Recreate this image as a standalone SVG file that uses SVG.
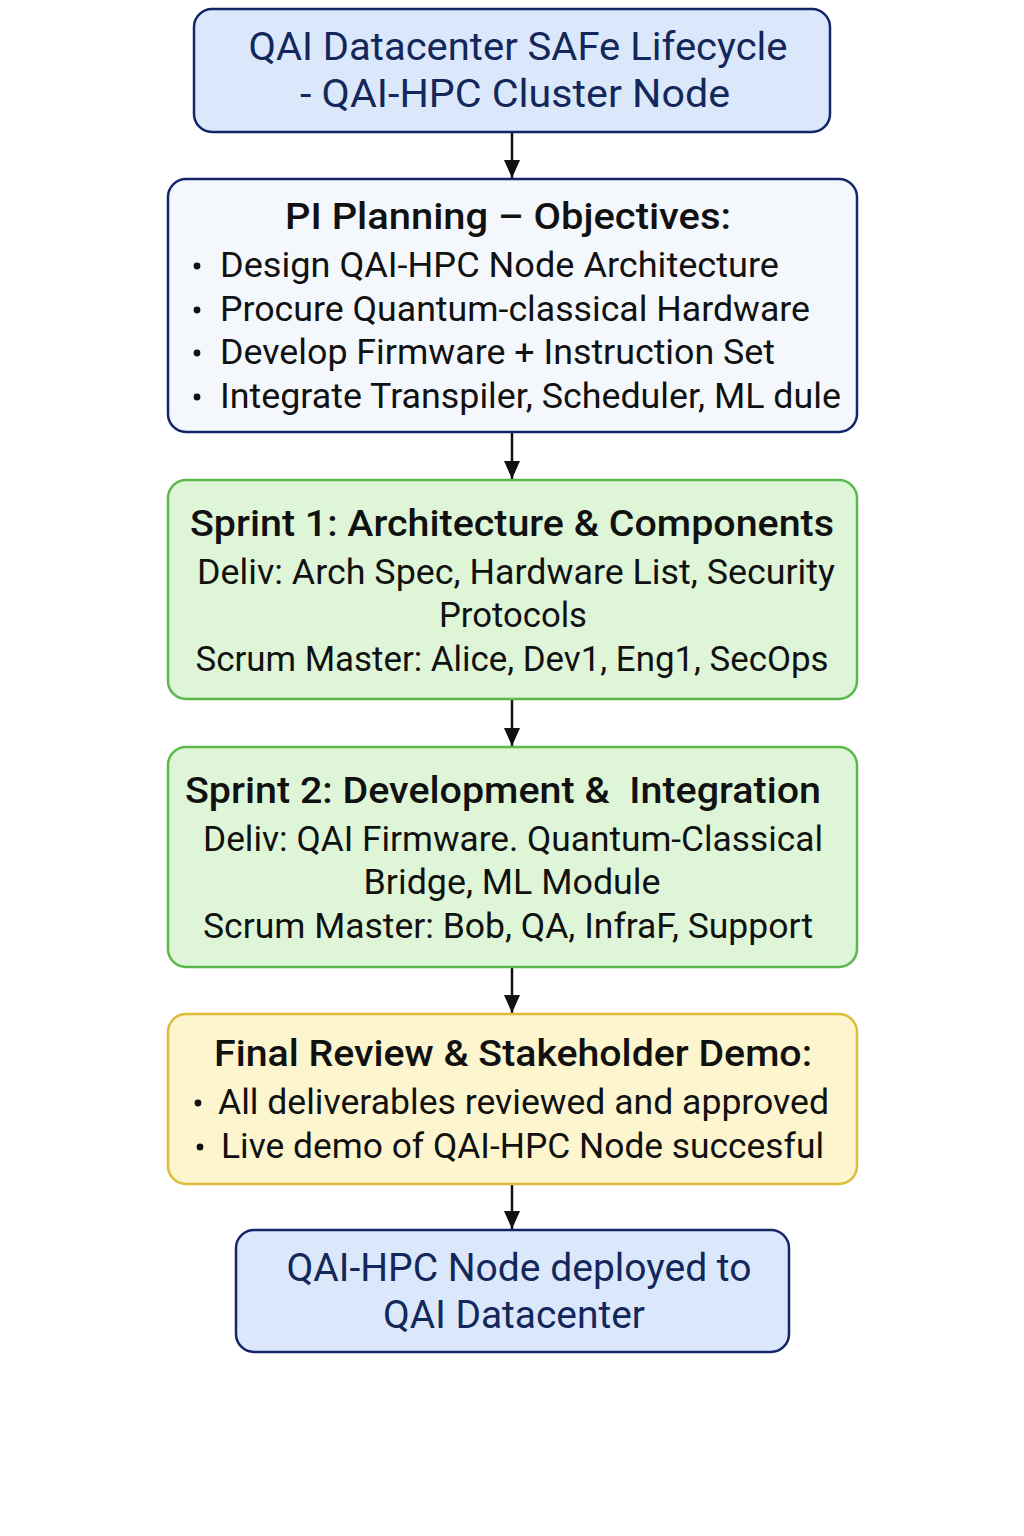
<svg xmlns="http://www.w3.org/2000/svg" width="1024" height="1536" viewBox="0 0 1024 1536">
  <style>
    .box { stroke-width: 2.5; }
    .blue { fill: #dbe8fb; stroke: #14266a; }
    .plan { fill: #f4f8fd; stroke: #14266a; }
    .green { fill: #def6d7; stroke: #5bb84a; }
    .yellow { fill: #fcf5cd; stroke: #dfbd3a; }
    text { font-family: Roboto, "Liberation Sans", sans-serif; }
    .navy { fill: #13275a; font-size: 38px; }
    .head { fill: #111; font-size: 37px; font-weight: 500; }
    .body { fill: #111; font-size: 35px; }
    .dot { fill: #111; }
    .conn { stroke: #111; stroke-width: 2.5; fill: none; }
  </style>
  <defs>
    <marker id="arrow" viewBox="0 0 18 16" refX="18" refY="8" markerWidth="18" markerHeight="16" markerUnits="userSpaceOnUse" orient="auto">
      <path d="M0,0 L18,8 L0,16 Z" fill="#111"/>
    </marker>
  </defs>
  <rect width="1024" height="1536" fill="#ffffff"/>

  <g id="connectors">
    <line class="conn" x1="512" y1="133" x2="512" y2="178" marker-end="url(#arrow)"/>
    <line class="conn" x1="512" y1="433" x2="512" y2="479" marker-end="url(#arrow)"/>
    <line class="conn" x1="512" y1="700" x2="512" y2="746" marker-end="url(#arrow)"/>
    <line class="conn" x1="512" y1="968" x2="512" y2="1013" marker-end="url(#arrow)"/>
    <line class="conn" x1="512" y1="1185" x2="512" y2="1229" marker-end="url(#arrow)"/>
  </g>

  <g id="lifecycle">
    <rect class="box blue" x="194" y="9" width="636" height="123" rx="18"/>
    <text class="navy" x="518" y="60" text-anchor="middle" textLength="539" lengthAdjust="spacingAndGlyphs">QAI Datacenter SAFe Lifecycle</text>
    <text class="navy" x="515" y="107" text-anchor="middle" textLength="430" lengthAdjust="spacingAndGlyphs">- QAI-HPC Cluster Node</text>
  </g>

  <g id="pi-planning">
    <rect class="box plan" x="168" y="179" width="689" height="253" rx="18"/>
    <text class="head" x="508" y="229" text-anchor="middle" textLength="446" lengthAdjust="spacingAndGlyphs">PI Planning – Objectives:</text>
    <circle class="dot" cx="197" cy="266" r="3.4"/>
    <text class="body" x="220" y="277" textLength="559" lengthAdjust="spacingAndGlyphs">Design QAI-HPC Node Architecture</text>
    <circle class="dot" cx="197" cy="310" r="3.4"/>
    <text class="body" x="220" y="321" textLength="590" lengthAdjust="spacingAndGlyphs">Procure Quantum-classical Hardware</text>
    <circle class="dot" cx="197" cy="353" r="3.4"/>
    <text class="body" x="220" y="364" textLength="555" lengthAdjust="spacingAndGlyphs">Develop Firmware + Instruction Set</text>
    <circle class="dot" cx="197" cy="397" r="3.4"/>
    <text class="body" x="220" y="408" textLength="621" lengthAdjust="spacingAndGlyphs">Integrate Transpiler, Scheduler, ML dule</text>
  </g>

  <g id="sprint-1">
    <rect class="box green" x="168" y="480" width="689" height="219" rx="18"/>
    <text class="head" x="512" y="536" text-anchor="middle" textLength="644" lengthAdjust="spacingAndGlyphs">Sprint 1: Architecture &amp; Components</text>
    <text class="body" x="516" y="584" text-anchor="middle" textLength="638" lengthAdjust="spacingAndGlyphs">Deliv: Arch Spec, Hardware List, Security</text>
    <text class="body" x="513" y="627" text-anchor="middle" textLength="148" lengthAdjust="spacingAndGlyphs">Protocols</text>
    <text class="body" x="512" y="671" text-anchor="middle" textLength="633" lengthAdjust="spacingAndGlyphs">Scrum Master: Alice, Dev1, Eng1, SecOps</text>
  </g>

  <g id="sprint-2">
    <rect class="box green" x="168" y="747" width="689" height="220" rx="18"/>
    <text class="head" x="503" y="803" text-anchor="middle" textLength="636" lengthAdjust="spacingAndGlyphs" xml:space="preserve">Sprint 2: Development &amp;  Integration</text>
    <text class="body" x="513" y="851" text-anchor="middle" textLength="620" lengthAdjust="spacingAndGlyphs">Deliv: QAI Firmware. Quantum-Classical</text>
    <text class="body" x="512" y="894" text-anchor="middle" textLength="297" lengthAdjust="spacingAndGlyphs">Bridge, ML Module</text>
    <text class="body" x="508" y="938" text-anchor="middle" textLength="610" lengthAdjust="spacingAndGlyphs">Scrum Master: Bob, QA, InfraF, Support</text>
  </g>

  <g id="final-review">
    <rect class="box yellow" x="168" y="1014" width="689" height="170" rx="18"/>
    <text class="head" x="513" y="1066" text-anchor="middle" textLength="598" lengthAdjust="spacingAndGlyphs">Final Review &amp; Stakeholder Demo:</text>
    <circle class="dot" cx="198" cy="1103" r="3.4"/>
    <text class="body" x="218" y="1114" textLength="611" lengthAdjust="spacingAndGlyphs">All deliverables reviewed and approved</text>
    <circle class="dot" cx="200" cy="1147" r="3.4"/>
    <text class="body" x="221" y="1158" textLength="603" lengthAdjust="spacingAndGlyphs">Live demo of QAI-HPC Node succesful</text>
  </g>

  <g id="deployed">
    <rect class="box blue" x="236" y="1230" width="553" height="122" rx="18"/>
    <text class="navy" x="519" y="1281" text-anchor="middle" textLength="465" lengthAdjust="spacingAndGlyphs">QAI-HPC Node deployed to</text>
    <text class="navy" x="514" y="1328" text-anchor="middle" textLength="262" lengthAdjust="spacingAndGlyphs">QAI Datacenter</text>
  </g>
</svg>
